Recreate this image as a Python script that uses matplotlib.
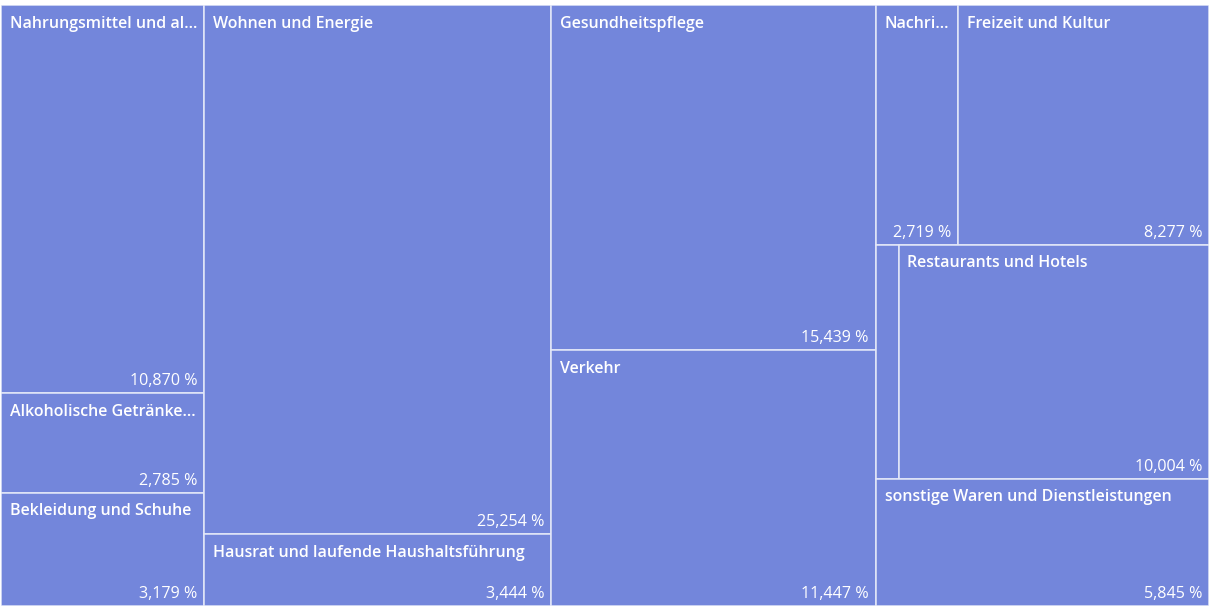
import math
import matplotlib
matplotlib.use("Agg")
import matplotlib.pyplot as plt
from matplotlib.patches import Rectangle

# Wägungsanteile des Warenkorbs (COICOP-Reihenfolge), in Prozent
names = ["Nahrungsmittel und alkoholfreie Getränke",
         "Alkoholische Getränke und Tabakwaren",
         "Bekleidung und Schuhe",
         "Wohnen und Energie",
         "Hausrat und laufende Haushaltsführung",
         "Gesundheitspflege",
         "Verkehr",
         "Nachrichtenübermittlung",
         "Freizeit und Kultur",
         "Bildungswesen",
         "Restaurants und Hotels",
         "sonstige Waren und Dienstleistungen"]
shown = ["Nahrungsmittel und al...",
         "Alkoholische Getränke...",
         "Bekleidung und Schuhe",
         "Wohnen und Energie",
         "Hausrat und laufende Haushaltsführung",
         "Gesundheitspflege",
         "Verkehr",
         "Nachri...",
         "Freizeit und Kultur",
         "",
         "Restaurants und Hotels",
         "sonstige Waren und Dienstleistungen"]
shares = [10.870, 2.785, 3.179, 25.254, 3.444, 15.439,
          11.447, 2.719, 8.277, 0.737, 10.004, 5.845]

FILL = "#7386db"
EDGE = "#e4e8f8"
plt.rcParams["font.family"] = ["Open Sans", "DejaVu Sans"]


def squarify(values, x0, y0, x1, y1, ratio=(1 + math.sqrt(5)) / 2):
    # same idea as d3.treemapSquarify
    rects = [None] * len(values)
    total = sum(values)
    i0 = i1 = 0
    n = len(values)
    while i0 < n:
        dx, dy = x1 - x0, y1 - y0
        s = values[i1]
        i1 += 1
        vmin = vmax = s
        alpha = max(dy / dx, dx / dy) / (total * ratio)
        beta = s * s * alpha
        best = max(vmax / beta, beta / vmin)
        while i1 < n:
            v = values[i1]
            s += v
            vmin, vmax = min(vmin, v), max(vmax, v)
            beta = s * s * alpha
            r = max(vmax / beta, beta / vmin)
            if r > best:
                s -= v
                break
            best = r
            i1 += 1
        if dx < dy:
            # row across the top
            h = dy * s / total
            cx = x0
            for k in range(i0, i1):
                w = dx * values[k] / s
                rects[k] = (cx, y0, cx + w, y0 + h)
                cx += w
            y0 += h
        else:
            # column on the left
            w = dx * s / total
            cy = y0
            for k in range(i0, i1):
                h = dy * values[k] / s
                rects[k] = (x0, cy, x0 + w, cy + h)
                cy += h
            x0 += w
        total -= s
        i0 = i1
    return rects


W, H = 1211, 610
fig = plt.figure(figsize=(W / 100, H / 100), dpi=100)
ax = fig.add_axes([1 / W, 4 / H, 1208 / W, 601 / H])
ax.set_xlim(0, 1208)
ax.set_ylim(601, 0)
ax.axis("off")

rects = squarify(shares, 0, 0, 1208, 601)
for (x0, y0, x1, y1), lab, val in zip(rects, shown, shares):
    ax.add_patch(Rectangle((x0, y0), x1 - x0, y1 - y0, facecolor=FILL,
                           edgecolor=EDGE, linewidth=1.1))
    if x1 - x0 < 40:
        continue
    ax.annotate(lab, (x0, y0), xytext=(6.3, -7.7), textcoords="offset points",
                ha="left", va="top", color="white", fontsize=11.5,
                fontweight="semibold")
    txt = f"{val:.3f}".replace(".", ",") + " %"
    ax.annotate(txt, (x1, y1), xytext=(-5.0, 2.7), textcoords="offset points",
                ha="right", va="bottom", color="white", fontsize=11.6)

fig.savefig("out.png", dpi=100)
